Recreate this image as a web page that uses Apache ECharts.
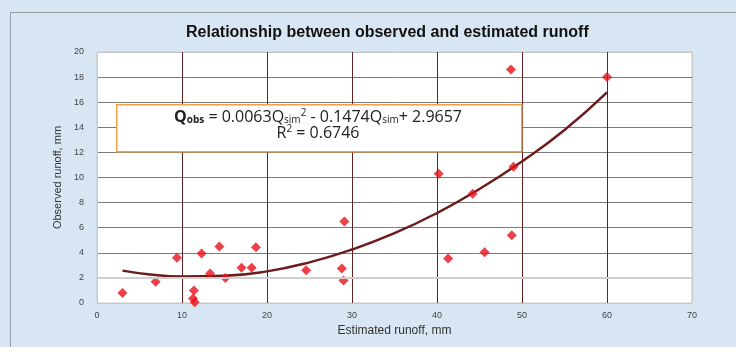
<!DOCTYPE html>
<html><head><meta charset="utf-8">
<script src="https://cdn.jsdelivr.net/npm/echarts@6/dist/echarts.min.js"></script>
<style>html,body{margin:0;padding:0;background:#d8e6f3;}#c{width:736px;height:347px;}</style>
</head><body><div id="c"></div>
<script>
// Observed vs estimated runoff (mm)
const estimated = [3.0, 6.9, 9.4, 11.4, 11.3, 11.5, 12.3, 13.3, 14.4, 15.1, 17.0, 18.2, 18.7, 24.6, 29.1, 28.8, 29.0, 40.2, 41.3, 44.2, 45.6, 48.7, 48.8, 49.0, 60.0];
const observed  = [0.8, 1.7, 3.6, 1.0, 0.35, 0.05, 3.95, 2.35, 4.5, 2.0, 2.8, 2.8, 4.45, 2.6, 6.5, 2.75, 1.8, 10.3, 3.55, 8.7, 4.05, 18.6, 5.4, 10.85, 18.0];
// Polynomial trendline
const trendX = [3, 6, 10, 15, 20, 25, 30, 35, 40, 45, 50, 55, 60];
const trendY = [2.58, 2.30, 2.12, 2.17, 2.52, 3.24, 4.26, 5.56, 7.17, 9.08, 11.28, 13.78, 16.78];
const xTicks = [0, 10, 20, 30, 40, 50, 60, 70];
const yTicks = [0, 2, 4, 6, 8, 10, 12, 14, 16, 18, 20];

const chart = echarts.init(document.getElementById('c'), null, {renderer: 'canvas'});
const pts = estimated.map((x, i) => [x, observed[i]]);
const trend = trendX.map((x, i) => [x, trendY[i]]);
const font = 'Liberation Sans, Arial, sans-serif';
const eqFont = 'Open Sans, sans-serif';

chart.setOption({
  backgroundColor: '#d8e6f3',
  animation: false,
  title: {
    text: 'Relationship between observed and estimated runoff',
    left: 181, top: 20,
    textStyle: {fontFamily: font, fontSize: 16, fontWeight: 'bold', color: '#111'}
  },
  grid: {left: 97, right: 44, top: 52, bottom: 44, show: true, backgroundColor: '#ffffff', borderColor: '#c8c8c8', borderWidth: 1},
  xAxis: {
    type: 'value', min: 0, max: 70, interval: 10,
    name: 'Estimated runoff, mm', nameLocation: 'middle', nameGap: 22,
    nameTextStyle: {fontFamily: font, fontSize: 12, color: '#333'},
    axisLine: {show: false}, axisTick: {show: false},
    axisLabel: {fontFamily: font, fontSize: 9, color: '#444', margin: 8},
    splitLine: {show: true, lineStyle: {color: ['#c8c8c8','#5e2222','#5e2222','#5e2222','#5e2222','#5e2222','#5e2222','#c8c8c8'], width: 1}}
  },
  yAxis: {
    type: 'value', min: 0, max: 20, interval: 2,
    name: 'Observed runoff, mm', nameLocation: 'middle', nameGap: 24,
    nameTextStyle: {fontFamily: 'Liberation Sans Narrow, ' + font, fontSize: 11, color: '#333'},
    axisLine: {show: false}, axisTick: {show: false},
    axisLabel: {fontFamily: font, fontSize: 9, color: '#444', margin: 13},
    splitLine: {show: true, lineStyle: {color: ['#c8c8c8','#d0d0d0','#7a7a7a','#7a7a7a','#7a7a7a','#7a7a7a','#7a7a7a','#7a7a7a','#7a7a7a','#7a7a7a','#c8c8c8'], width: 1}}
  },
  series: [
    {
      type: 'line', data: trend, smooth: true, showSymbol: false, z: 2,
      lineStyle: {color: '#6b1c1c', width: 2.5},
      markLine: {silent: true, symbol: 'none', label: {show: false},
        lineStyle: {color: '#cfcfcf', width: 2, type: 'solid'}, data: [{yAxis: 2}]}
    },
    {
      type: 'scatter', data: pts, symbol: 'diamond', symbolSize: 10, z: 3,
      itemStyle: {color: '#e8101a'}
    }
  ],
  graphic: [
    {type: 'rect', left: 8, top: 10, shape: {width: 740, height: 345},
      style: {fill: 'none', stroke: '#555', lineWidth: 1, lineDash: [1, 1]}},
    {type: 'rect', left: 116, top: 104, shape: {width: 405, height: 47},
      style: {fill: '#ffffff', stroke: '#f0a04a', lineWidth: 1.5}, z: 10},
    {type: 'text', z: 11,
      style: {
        x: 318, y: 117, align: 'center', verticalAlign: 'middle',
        text: '{qb|Q}{sb|obs}{n| = 0.0063Q}{s|sim}{sp|2}{n| - 0.1474Q}{s|sim}{n|+ 2.9657}',
        rich: {
          qb: {fontFamily: eqFont, fontSize: 16, fontWeight: 'bold', fill: '#222', lineHeight: 17},
          sb: {fontFamily: eqFont, fontSize: 10, fontWeight: 'bold', fill: '#222', verticalAlign: 'bottom', lineHeight: 17},
          n: {fontFamily: eqFont, fontSize: 16, fill: '#222', lineHeight: 17},
          s: {fontFamily: eqFont, fontSize: 10, fill: '#222', verticalAlign: 'bottom', lineHeight: 17},
          sp: {fontFamily: eqFont, fontSize: 10, fill: '#222', verticalAlign: 'top', lineHeight: 17}
        }
      }},
    {type: 'text', z: 11,
      style: {
        x: 318, y: 133, align: 'center', verticalAlign: 'middle',
        text: '{n|R}{sp|2}{n| = 0.6746}',
        rich: {
          n: {fontFamily: eqFont, fontSize: 16, fill: '#222', lineHeight: 17},
          sp: {fontFamily: eqFont, fontSize: 10, fill: '#222', verticalAlign: 'top', lineHeight: 17}
        }
      }}
  ]
});
</script></body></html>
